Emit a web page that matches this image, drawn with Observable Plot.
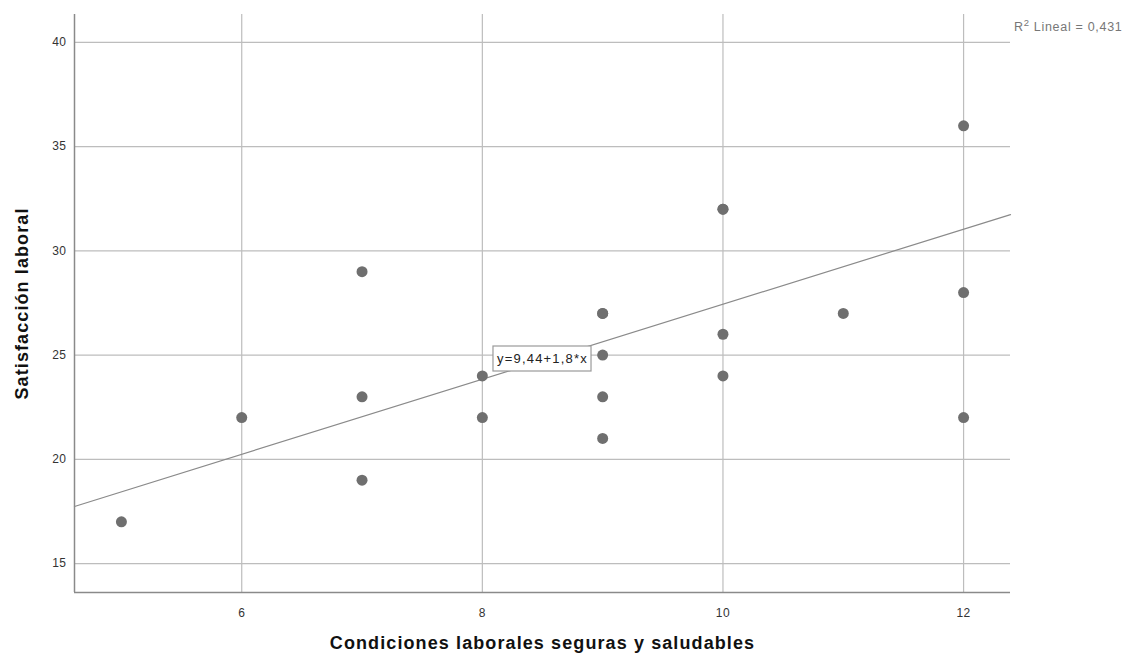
<!DOCTYPE html>
<html>
<head>
<meta charset="utf-8">
<script src="https://cdn.jsdelivr.net/npm/d3@7"></script>
<script src="https://cdn.jsdelivr.net/npm/@observablehq/plot@0.6"></script>
<style>
  body { margin: 0; background: #fff; }
  svg { font-family: "Liberation Sans", Arial, sans-serif; }
  .axtitle text { letter-spacing: 1.1px; }
  .eqlabel text { letter-spacing: 1.2px; }
  .r2label text { letter-spacing: 0.7px; }
  .ticklbl text { letter-spacing: 0.5px; }
</style>
</head>
<body>
<div id="chart"></div>
<script>
const condiciones = [5, 6, 7, 7, 7, 8, 8, 9, 9, 9, 9, 9, 10, 10, 10, 10, 11, 12, 12, 12];
const satisfaccion = [17, 22, 29, 23, 19, 24, 22, 27, 27, 25, 23, 21, 32, 32, 26, 24, 27, 36, 28, 22];
const xTicks = [6, 8, 10, 12];
const yTicks = [15, 20, 25, 30, 35, 40];
const xDomain = [4.61, 12.39];
const yDomain = [13.61, 41.34];
const intercept = 9.44;
const slope = 1.8;
const r2 = "0,431";
const eqLabel = "y=9,44+1,8*x";
const eqPos = {x: 8.5, y: 24.82};

const points = condiciones.map((c, i) => ({x: c, y: satisfaccion[i]}));
const fitLine = xDomain.map(x => ({x, y: intercept + slope * x}));

const chart = Plot.plot({
  width: 1130,
  height: 664,
  marginLeft: 74,
  marginRight: 120,
  marginTop: 14,
  marginBottom: 72,
  x: {domain: xDomain, ticks: xTicks},
  y: {domain: yDomain, ticks: yTicks},
  style: {fontFamily: "'Liberation Sans', Arial, sans-serif"},
  marks: [
    Plot.gridX(xTicks, {stroke: "#bdbdbd", strokeOpacity: 1, strokeWidth: 1.2}),
    Plot.gridY(yTicks, {stroke: "#bdbdbd", strokeOpacity: 1, strokeWidth: 1.2}),
    Plot.axisX(xTicks, {tickSize: 0, tickPadding: 16, fontSize: 12, fill: "#333", label: null, tickFormat: d3.format("d"), className: "ticklbl"}),
    Plot.axisY(yTicks, {tickSize: 0, tickPadding: 8, fontSize: 12, fill: "#333", label: null, tickFormat: d3.format("d"), className: "ticklbl"}),
    Plot.ruleX([xDomain[0]], {stroke: "#8a8a8a", strokeWidth: 1.5}),
    Plot.ruleY([yDomain[0]], {stroke: "#8a8a8a", strokeWidth: 1.5}),
    Plot.line(fitLine, {x: "x", y: "y", stroke: "#8a8a8a", strokeWidth: 1.2}),
    Plot.dot(points, {x: "x", y: "y", r: 5.5, fill: "#6f6f6f", stroke: "none"}),
    Plot.text([eqLabel], {x: () => eqPos.x, y: () => eqPos.y, text: d => d, fontSize: 13, fill: "#222", className: "eqlabel"}),
    Plot.text(["R² Lineal = " + r2], {frameAnchor: "top-right", text: d => d, dx: 112, dy: 8, fontSize: 12.5, fill: "#777", textAnchor: "end", className: "r2label"}),
    Plot.text(["Satisfacción laboral"], {frameAnchor: "left", textAnchor: "middle", text: d => d, rotate: -90, dx: -52, fontSize: 18, fontWeight: "bold", fill: "#111", className: "axtitle"}),
    Plot.text(["Condiciones laborales seguras y saludables"], {frameAnchor: "bottom", text: d => d, dy: 56, fontSize: 18, fontWeight: "bold", fill: "#111", className: "axtitle"})
  ]
});
document.getElementById("chart").appendChild(chart);

const ns = "http://www.w3.org/2000/svg";
// superscript 2 in R² label
const r2t = chart.querySelector("g.r2label text");
if (r2t) {
  const full = r2t.textContent;
  r2t.textContent = "";
  const a = document.createElementNS(ns, "tspan"); a.textContent = "R";
  const b = document.createElementNS(ns, "tspan"); b.textContent = "2";
  b.setAttribute("font-size", "9.5"); b.setAttribute("dy", "-5");
  const c = document.createElementNS(ns, "tspan"); c.textContent = full.replace("R²", "");
  c.setAttribute("dy", "5");
  r2t.append(a, b, c);
}
// draw a box behind the equation label
const lbl = chart.querySelector("g.eqlabel text");
if (lbl) {
  const bb = lbl.getBBox();
  const rect = document.createElementNS(ns, "rect");
  rect.setAttribute("x", bb.x - 4);
  rect.setAttribute("y", bb.y - 5);
  rect.setAttribute("width", bb.width + 7);
  rect.setAttribute("height", bb.height + 10);
  rect.setAttribute("fill", "#fff");
  rect.setAttribute("stroke", "#9a9a9a");
  rect.setAttribute("stroke-width", "1.2");
  const t = lbl.getAttribute("transform");
  if (t) rect.setAttribute("transform", t);
  lbl.parentNode.insertBefore(rect, lbl);
}
</script>
</body>
</html>
